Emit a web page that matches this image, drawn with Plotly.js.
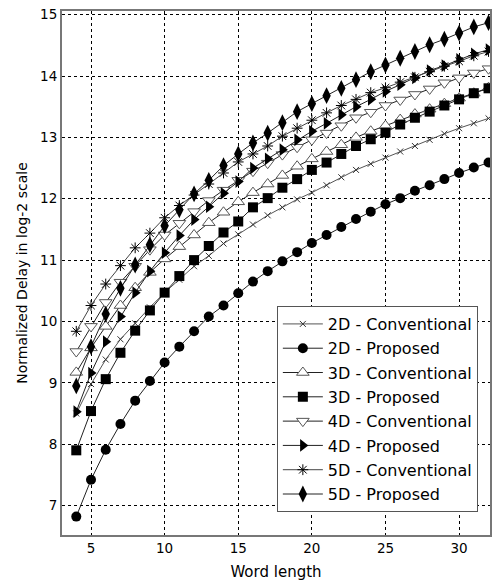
<!DOCTYPE html>
<html>
<head>
<meta charset="utf-8">
<script src="https://cdn.plot.ly/plotly-3.0.1.min.js"></script>
<style>html,body{margin:0;padding:0;background:#fff;}#chart{width:496px;height:582px;}</style>
</head>
<body>
<div id="chart"></div>
<script>
const wordLength = [4,5,6,7,8,9,10,11,12,13,14,15,16,17,18,19,20,21,22,23,24,25,26,27,28,29,30,31,32];
const seriesNames = ["2D - Conventional","2D - Proposed","3D - Conventional","3D - Proposed","4D - Conventional","4D - Proposed","5D - Conventional","5D - Proposed"];
const d2conv = [8.50,8.98,9.38,9.71,9.97,10.23,10.47,10.68,10.90,11.07,11.27,11.42,11.58,11.73,11.86,11.99,12.10,12.22,12.35,12.47,12.57,12.67,12.77,12.86,12.96,13.06,13.15,13.23,13.31];
const d2prop = [6.82,7.42,7.91,8.33,8.71,9.03,9.33,9.59,9.84,10.08,10.26,10.46,10.65,10.82,10.98,11.13,11.28,11.41,11.54,11.67,11.79,11.91,12.01,12.13,12.22,12.32,12.42,12.51,12.59];
const d3conv = [9.17,9.57,9.92,10.26,10.55,10.80,11.02,11.22,11.41,11.61,11.78,11.95,12.10,12.24,12.38,12.53,12.65,12.77,12.88,13.00,13.10,13.19,13.29,13.38,13.46,13.55,13.64,13.72,13.81];
const d3prop = [7.90,8.54,9.06,9.49,9.85,10.18,10.47,10.74,11.00,11.23,11.45,11.63,11.86,12.01,12.18,12.32,12.47,12.59,12.73,12.86,12.97,13.08,13.21,13.32,13.42,13.52,13.62,13.72,13.80];
const d4conv = [9.51,9.92,10.31,10.64,10.90,11.17,11.41,11.60,11.79,11.97,12.14,12.30,12.45,12.58,12.72,12.84,12.96,13.07,13.19,13.32,13.41,13.52,13.61,13.70,13.79,13.89,13.97,14.05,14.12];
const d4prop = [8.53,9.16,9.67,10.08,10.47,10.82,11.12,11.40,11.66,11.87,12.09,12.28,12.50,12.65,12.80,12.96,13.10,13.23,13.37,13.50,13.62,13.75,13.86,13.97,14.09,14.17,14.27,14.36,14.43];
const d5conv = [9.84,10.26,10.61,10.91,11.20,11.44,11.69,11.89,12.06,12.24,12.42,12.60,12.73,12.86,13.02,13.15,13.28,13.40,13.52,13.62,13.73,13.81,13.90,13.98,14.07,14.16,14.24,14.33,14.40];
const d5prop = [8.95,9.59,10.12,10.54,10.92,11.25,11.56,11.82,12.08,12.30,12.54,12.73,12.91,13.07,13.24,13.42,13.55,13.68,13.80,13.94,14.07,14.18,14.29,14.40,14.51,14.60,14.70,14.80,14.87];

const seriesData = [d2conv,d2prop,d3conv,d3prop,d4conv,d4prop,d5conv,d5prop];
const styles = [
  {line:{color:'#555',width:1}, marker:{symbol:'x-thin-open',size:6,color:'#333',line:{color:'#333',width:1}}},
  {line:{color:'#222',width:1}, marker:{symbol:'circle',size:10,color:'#000'}},
  {line:{color:'#222',width:1}, marker:{symbol:'triangle-up',size:11,color:'#fff',line:{color:'#555',width:1}}},
  {line:{color:'#222',width:1}, marker:{symbol:'square',size:10,color:'#000'}},
  {line:{color:'#222',width:1}, marker:{symbol:'triangle-down',size:11,color:'#fff',line:{color:'#555',width:1}}},
  {line:{color:'#222',width:1}, marker:{symbol:'triangle-right',size:11,color:'#000'}},
  {line:{color:'#444',width:1}, marker:{symbol:'asterisk-open',size:9,color:'#000',line:{color:'#000',width:1}}},
  {line:{color:'#222',width:1}, marker:{symbol:'diamond-tall',size:12,color:'#000'}}
];
const traces = seriesNames.map((n,i)=>({
  type:'scatter', mode:'lines+markers', name:n, x:wordLength, y:seriesData[i],
  line:styles[i].line, marker:styles[i].marker, legendgroup:'g'+i
}));

const FONT = 'DejaVu Sans, Arial, sans-serif';
const axisCommon = {
  showline:true, linecolor:'#777', linewidth:2, mirror:true,
  showgrid:true, gridcolor:'#000', griddash:'dot', gridwidth:1,
  zeroline:false, ticks:'', tickfont:{family:FONT, size:13.5, color:'#000'}
};
const layout = {
  width:496, height:582,
  margin:{l:62, r:6, t:11, b:47},
  paper_bgcolor:'#fff', plot_bgcolor:'#fff',
  font:{family:FONT, color:'#000'},
  xaxis:Object.assign({}, axisCommon, {range:[3.03,32.1], tickvals:[5,10,15,20,25,30],
    title:{text:'Word length', font:{size:15}, standoff:11}}),
  yaxis:Object.assign({}, axisCommon, {range:[6.52,15.06], tickvals:[7,8,9,10,11,12,13,14,15],
    title:{text:'Normalized Delay in log-2 scale', font:{size:14}, standoff:9}}),
  showlegend:true,
  legend:{x:0.502, y:0.437, xanchor:'left', yanchor:'top', bgcolor:'#fff', bordercolor:'#555', borderwidth:1,
    font:{size:16, family:FONT}, traceorder:'grouped', tracegroupgap:0.5, itemwidth:40}
};
Plotly.newPlot('chart', traces, layout, {displayModeBar:false, staticPlot:true});
</script>
</body>
</html>
